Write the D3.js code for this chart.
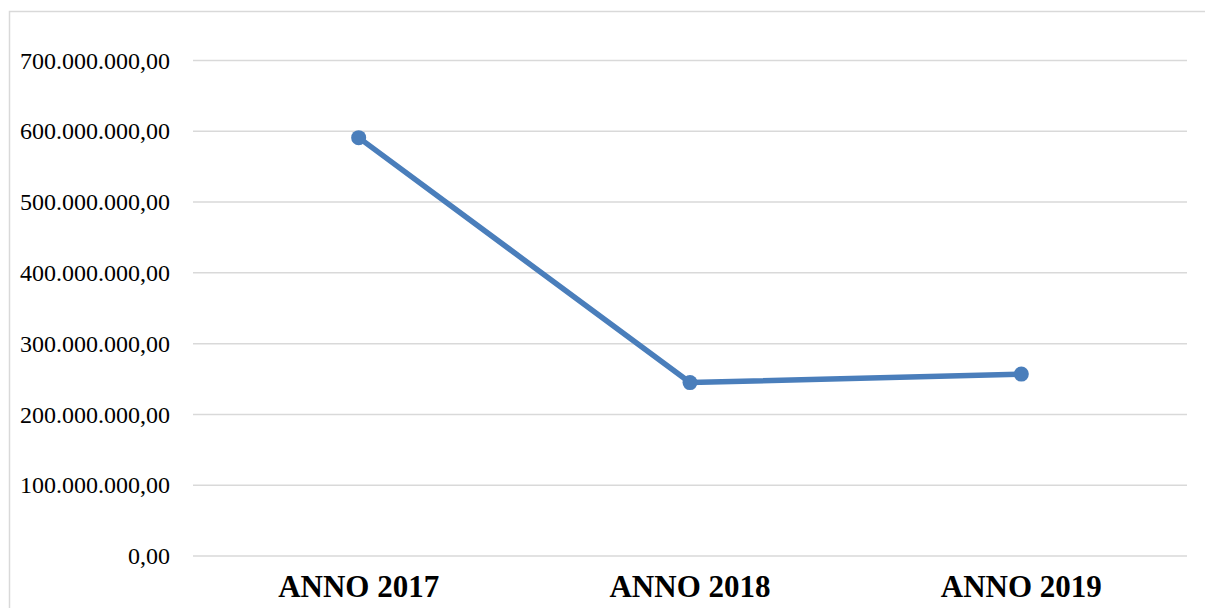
<!DOCTYPE html>
<html>
<head>
<meta charset="utf-8">
<script src="https://cdn.jsdelivr.net/npm/d3@7"></script>
<style>
  html, body { margin: 0; padding: 0; background: #fff; overflow: hidden; }
  svg { display: block; }
</style>
</head>
<body>
<div id="holder"></div>
<script>
const w = 1205;
const h = 608;

// DATA
const categories = ["ANNO 2017", "ANNO 2018", "ANNO 2019"];
const values = [591000000, 245000000, 257000000];
const yTicks = [0, 100000000, 200000000, 300000000, 400000000, 500000000, 600000000, 700000000];

const margin = { top: 60.5, right: 18, bottom: 52, left: 193 };

const svg = d3.select("#holder")
    .append("svg")
    .attr("width", w)
    .attr("height", h);

// chart border (only left and top fall inside the picture)
svg.append("path")
    .attr("d", "M9.5," + (h + 10) + "V11.5H" + (w + 10))
    .attr("fill", "none")
    .attr("stroke", "#d9d9d9")
    .attr("stroke-width", 1.5);

// SCALES
const xScale = d3.scaleBand()
    .domain(categories)
    .range([margin.left, w - margin.right]);

const yScale = d3.scaleLinear()
    .domain([0, 700000000])
    .range([h - margin.bottom, margin.top]);

// number format like 600.000.000,00
const itFormat = d3.formatLocale({
    decimal: ",",
    thousands: ".",
    grouping: [3],
    currency: ["", "€"]
}).format(",.2f");

// GRIDLINES
svg.append("g")
    .selectAll("line")
    .data(yTicks)
    .enter()
    .append("line")
    .attr("x1", margin.left)
    .attr("x2", w - margin.right)
    .attr("y1", d => yScale(d))
    .attr("y2", d => yScale(d))
    .attr("stroke", "#d9d9d9")
    .attr("stroke-width", 1.5);

// Y AXIS
const yAxis = d3.axisLeft(yScale)
    .tickValues(yTicks)
    .tickSize(0)
    .tickPadding(23)
    .tickFormat(itFormat);

svg.append("g")
    .attr("transform", "translate(" + margin.left + ",0)")
    .call(yAxis)
    .call(g => g.select(".domain").remove())
    .selectAll("text")
    .attr("font-family", "'Liberation Serif', serif")
    .attr("font-size", "24px")
    .attr("fill", "#000");

// X AXIS
const xAxis = d3.axisBottom(xScale).tickSize(0).tickPadding(19);

svg.append("g")
    .attr("transform", "translate(0," + (h - margin.bottom) + ")")
    .call(xAxis)
    .call(g => g.select(".domain").remove())
    .selectAll("text")
    .attr("font-family", "'Liberation Serif', serif")
    .attr("font-size", "31px")
    .attr("font-weight", "bold")
    .attr("fill", "#000");

// LINE
const line = d3.line()
    .x((d, i) => xScale(categories[i]) + xScale.bandwidth() / 2)
    .y(d => yScale(d));

svg.append("path")
    .datum(values)
    .attr("d", line)
    .attr("fill", "none")
    .attr("stroke", "#4a7ebb")
    .attr("stroke-width", 5.5)
    .attr("stroke-linejoin", "round");

// DOTS
svg.selectAll("circle.dot")
    .data(values)
    .enter()
    .append("circle")
    .attr("class", "dot")
    .attr("cx", (d, i) => xScale(categories[i]) + xScale.bandwidth() / 2)
    .attr("cy", d => yScale(d))
    .attr("r", 7.5)
    .attr("fill", "#4a7ebb");
</script>
</body>
</html>
